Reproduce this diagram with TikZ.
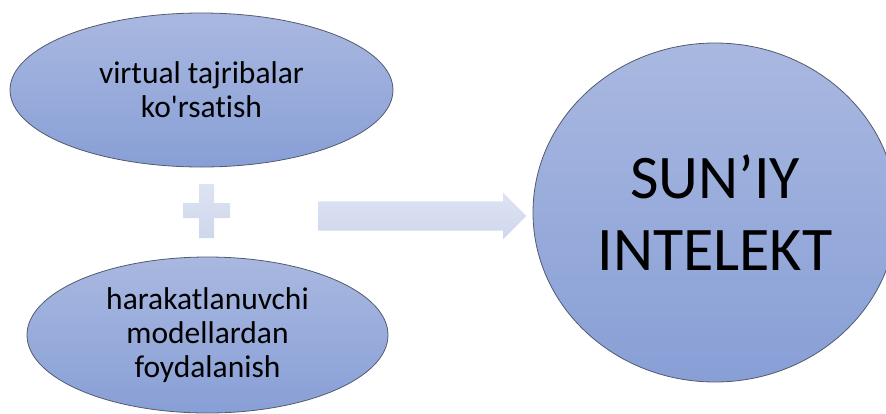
\documentclass[tikz,border=0pt]{standalone}
\usepackage{fontspec}
\setmainfont{Carlito}[Ligatures={TeXOff,NoCommon}]
\usepackage{xcolor}
\usepackage{tikz}
\usetikzlibrary{positioning,shapes.geometric,shapes.arrows}
\definecolor{kyuqori}{HTML}{A9B8E0}
\definecolor{kypast}{HTML}{889FD6}
\definecolor{chegara}{HTML}{525A6E}
\definecolor{ochyuqori}{HTML}{DDE3F2}
\definecolor{ochpast}{HTML}{CFD7EC}
\tikzset{
  oval/.style={ellipse, draw=chegara, line width=0.8pt, top color=kyuqori,
    bottom color=kypast, inner sep=0pt, align=center,
    font=\fontsize{31.5}{34}\selectfont},
  doira/.style={oval, font=\fontsize{62}{72}\selectfont},
  plyus/.style={top color=ochyuqori, bottom color=ochpast},
  oq/.style={single arrow, top color=ochyuqori, bottom color=ochpast,
    single arrow tip angle=90, single arrow head extend=8.5pt,
    inner xsep=0pt, inner ysep=14.5pt},
}
\begin{document}
\begin{tikzpicture}[x=1pt, y=-1pt]
  \useasboundingbox (0,0) rectangle (886,413);
  \clip (0,0) rectangle (886,413);
  \node[oval, minimum width=383pt, minimum height=154pt] (virt) at (201.5,90)
    {virtual tajribalar\\ko'rsatish};
  \node[oval, minimum width=361pt, minimum height=156pt] (harak) at (207.5,335)
    {harakatlanuvchi\\modellardan\\foydalanish};
  \node[doira, minimum width=364pt, minimum height=339pt] (intelekt) at (715,212.5)
    {SUN’IY\\INTELEKT};
  % plyus belgisi
  \path[plyus] (199,184) -- (214,184) -- (214,203) -- (230,203) -- (230,218)
    -- (214,218) -- (214,238) -- (199,238) -- (199,218) -- (183,218)
    -- (183,203) -- (199,203) -- cycle;
  \node[oq, minimum height=208pt] (strelka) at (415,216) {};
\end{tikzpicture}
\end{document}
